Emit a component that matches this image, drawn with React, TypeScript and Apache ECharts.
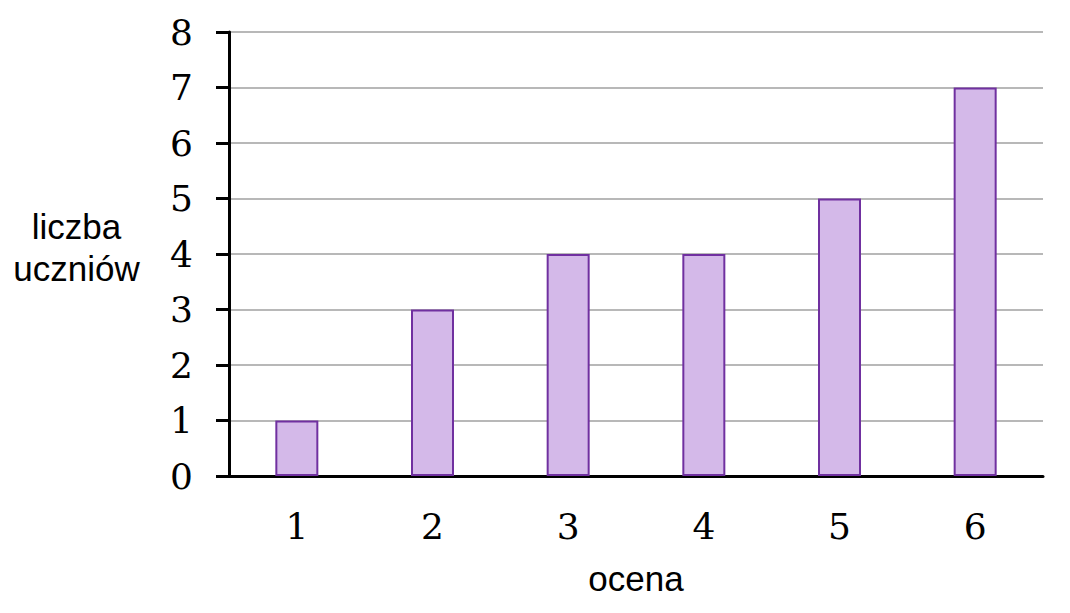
import React, { useEffect, useRef } from "react";
import * as echarts from "echarts";

const categories = ["1", "2", "3", "4", "5", "6"];
const values = [1, 3, 4, 4, 5, 7];
const yTicks = { min: 0, max: 8, interval: 1 };

export default function App() {
  const ref = useRef<HTMLDivElement>(null);
  useEffect(() => {
    const chart = echarts.init(ref.current!, null, { renderer: "svg" });
    chart.setOption({
      animation: false,
      grid: { left: 221, right: 19, top: 24, bottom: 129 },
      xAxis: {
        type: "category",
        data: categories,
        boundaryGap: true,
        axisLine: { lineStyle: { color: "#000", width: 3 } },
        axisTick: { show: false },
        axisLabel: {
          margin: 32,
          fontFamily: "DejaVu Serif",
          fontSize: 36,
          color: "#000",
        },
        name: "ocena",
        nameLocation: "middle",
        nameGap: 85,
        nameTextStyle: { fontFamily: "Liberation Sans", fontSize: 35, color: "#000" },
      },
      yAxis: {
        type: "value",
        min: yTicks.min,
        max: yTicks.max,
        interval: yTicks.interval,
        axisLine: { show: true, lineStyle: { color: "#000", width: 3 } },
        axisTick: { show: true, length: 13, lineStyle: { color: "#000", width: 3 } },
        axisLabel: {
          margin: 36,
          fontFamily: "DejaVu Serif",
          fontSize: 36,
          color: "#000",
        },
        splitLine: { show: true, lineStyle: { color: "#a0a0a0", width: 1.5 } },
      },
      graphic: [
        {
          type: "text",
          x: 68.5,
          y: 197,
          style: {
            text: "liczba\nuczniów",
            fontFamily: "Liberation Sans",
            fontSize: 35,
            lineHeight: 42,
            fill: "#000",
            align: "center",
            verticalAlign: "top",
          },
        },
      ],
      series: [
        {
          type: "bar",
          data: values,
          barWidth: 43,
          itemStyle: { color: "#d4b9e9", borderColor: "#7030a0", borderWidth: 2 },
        },
      ],
    });
    return () => chart.dispose();
  }, []);
  return <div ref={ref} style={{ width: 1054, height: 597 }} />;
}
